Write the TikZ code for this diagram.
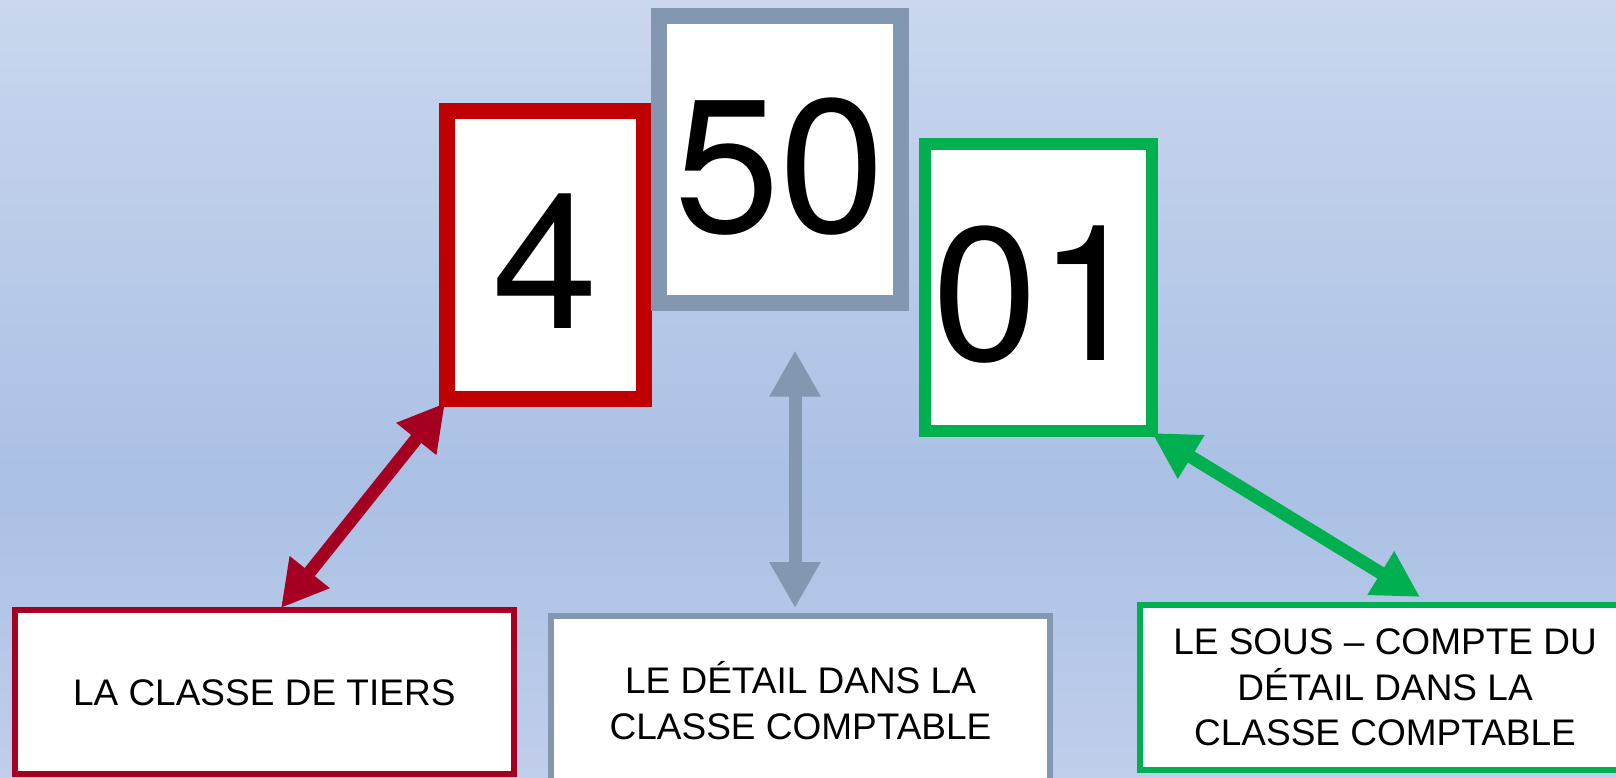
\documentclass[tikz,border=0pt]{standalone}
\usepackage{fontspec}
\setmainfont{Liberation Sans}
\newfontfamily\digitfont{TeX Gyre Heros}
\usetikzlibrary{arrows.meta}
\definecolor{topred}{HTML}{C00000}
\definecolor{cred}{HTML}{A50021}
\definecolor{slate}{HTML}{8497B0}
\definecolor{kgreen}{HTML}{00B050}
\definecolor{bgtop}{RGB}{202,215,238}
\definecolor{bgmid}{RGB}{170,192,228}
\definecolor{bgbot}{RGB}{192,206,235}
\pgfdeclareverticalshading{bgshade}{100bp}{color(0bp)=(bgbot); color(25bp)=(bgbot); color(44bp)=(bgmid); color(75bp)=(bgtop); color(100bp)=(bgtop)}
\begin{document}
\begin{tikzpicture}[x=1pt,y=-1pt,
  digitbox/.style={draw, fill=white, inner sep=0pt, outer sep=0pt, line width=16pt,
    font=\digitfont\fontsize{190}{190}\selectfont, text height=146pt, text depth=0pt},
  labelbox/.style={draw, fill=white, inner sep=0pt, outer sep=0pt, line width=6pt,
    font=\fontsize{37}{45.5}\selectfont, align=center},
  link/.style={line width=13pt, {Triangle[length=46pt,width=48pt]}-{Triangle[length=46pt,width=48pt]}}
]
\useasboundingbox (0,0) rectangle (1616,778);
\clip (0,0) rectangle (1616,778);
\shade[shading=bgshade] (0,0) rectangle (1616,778);

\node[digitbox, draw=topred, minimum width=197pt, minimum height=288pt] (b4) at (545.5,255) {4};
\node[digitbox, draw=slate, minimum width=241.5pt, minimum height=287pt] (b50) at (779.75,159.5) {50};
\node[digitbox, draw=kgreen, line width=12pt, minimum width=227pt, minimum height=287pt] (b01) at (1038.5,287.5) {01};

\node[labelbox, draw=cred, minimum width=498.5pt, minimum height=164pt, text height=26.5pt] (tiers) at (264.25,692) {LA CLASSE DE TIERS};
\node[labelbox, draw=slate, minimum width=499pt, minimum height=170pt] (detail) at (800.5,700.5) {LE DÉTAIL DANS LA\\CLASSE COMPTABLE};
\node[labelbox, draw=kgreen, minimum width=490pt, minimum height=165pt] (sous) at (1385,687.5) {LE SOUS – COMPTE DU\\DÉTAIL DANS LA\\CLASSE COMPTABLE};

\draw[link, cred] ([xshift=-2pt,yshift=-4pt]b4.south west) -- ([xshift=16.75pt,yshift=2pt]tiers.north);
\draw[link, slate] ([xshift=15.25pt,yshift=-47.5pt]b50.south) -- ([xshift=-5.5pt,yshift=7.5pt]detail.north);
\draw[link, kgreen] ([yshift=-2pt]b01.south east) -- ([xshift=35pt,yshift=8pt]sous.north);
\end{tikzpicture}
\end{document}
